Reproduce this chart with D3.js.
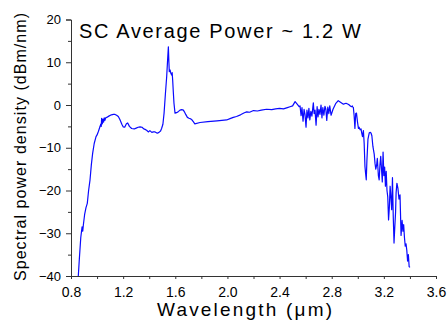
<!DOCTYPE html>
<html><head><meta charset="utf-8">
<script src="https://cdn.jsdelivr.net/npm/d3@7"></script>
<style>body{margin:0;background:#fff}svg{display:block}text{font-family:"Liberation Sans",Arial,sans-serif;fill:#000}</style>
</head><body>
<svg id="c" width="447" height="322"></svg>
<script>
const wavelength = [0.856,0.864,0.875,0.885,0.890,0.895,0.905,0.915,0.925,0.935,0.946,0.956,0.966,0.978,0.992,1.000,1.010,1.022,1.028,1.032,1.035,1.040,1.045,1.050,1.055,1.060,1.066,1.074,1.090,1.110,1.125,1.138,1.150,1.163,1.175,1.190,1.200,1.212,1.225,1.235,1.248,1.265,1.285,1.300,1.315,1.330,1.345,1.358,1.368,1.380,1.393,1.405,1.420,1.432,1.445,1.462,1.475,1.487,1.495,1.505,1.514,1.524,1.534,1.541,1.547,1.551,1.554,1.560,1.566,1.572,1.576,1.580,1.585,1.590,1.598,1.610,1.625,1.636,1.650,1.662,1.670,1.680,1.693,1.705,1.715,1.726,1.738,1.750,1.790,1.850,1.920,1.994,2.020,2.045,2.070,2.100,2.130,2.148,2.170,2.200,2.230,2.260,2.300,2.340,2.370,2.400,2.430,2.460,2.480,2.500,2.519,2.535,2.550,2.557,2.565,2.572,2.580,2.588,2.595,2.603,2.610,2.618,2.625,2.632,2.640,2.648,2.655,2.659,2.665,2.672,2.680,2.688,2.695,2.702,2.710,2.718,2.725,2.732,2.740,2.748,2.755,2.762,2.770,2.778,2.785,2.795,2.810,2.830,2.850,2.870,2.890,2.910,2.930,2.945,2.953,2.958,2.962,2.966,2.972,2.978,2.984,2.990,2.998,3.005,3.010,3.018,3.025,3.030,3.036,3.043,3.049,3.055,3.060,3.065,3.070,3.078,3.088,3.096,3.102,3.108,3.116,3.126,3.132,3.138,3.144,3.150,3.158,3.164,3.170,3.176,3.182,3.188,3.194,3.200,3.206,3.212,3.218,3.224,3.230,3.236,3.242,3.248,3.255,3.260,3.266,3.272,3.278,3.284,3.290,3.294,3.300,3.308,3.316,3.324,3.332,3.340,3.346,3.352,3.358,3.364,3.370,3.376,3.382,3.388,3.394,3.400,3.406,3.412,3.420,3.426,3.434];
const power = [-40,-36,-31,-28.5,-29.5,-28,-25.5,-24,-23,-20,-17.5,-14,-11.3,-9,-7.4,-7,-6.2,-5.1,-4.5,-5.0,-3.1,-4.4,-3.3,-4.0,-3.0,-3.6,-3.0,-2.9,-2.6,-2.3,-2.2,-2.2,-2.4,-2.7,-3.4,-4.5,-5.1,-5.2,-4.4,-4.2,-5.0,-5.5,-5.6,-5.4,-5.2,-5.1,-5.2,-5.6,-5.7,-5.9,-6.3,-6.0,-6.4,-6.3,-6.3,-6.6,-6.4,-6.1,-5.5,-4.5,-1.9,2.5,6.6,10.5,13.6,10.0,7.8,8.2,7.4,7.0,7.6,5.8,3.0,0.4,-1.9,-1.8,-1.5,-1.2,-1.1,-1.2,-1.6,-2.2,-2.9,-3.1,-3.2,-3.4,-3.9,-4.4,-4.1,-3.9,-3.7,-3.5,-3.2,-2.9,-2.7,-2.3,-1.8,-1.6,-1.7,-1.3,-1.4,-1.2,-1.0,-1.1,-0.9,-0.8,-0.9,-0.6,-0.4,-0.2,0.8,0.2,-0.4,-0.2,-2.5,-0.6,-3.8,-1.0,-2.2,-5.2,-1.2,-3.0,-0.8,-3.5,-1.5,-2.6,-0.6,0.5,-2.0,-1.2,-4.7,-0.4,-2.8,-1.0,-2.2,0.0,-3.0,-0.6,-2.4,-0.3,-1.0,-3.6,-0.5,-2.0,-0.2,-2.4,-1.0,0.3,1.0,0.6,0.2,0.4,0.1,-0.3,-0.4,-0.2,-0.5,-0.6,-2.5,-5.5,-2.0,-1.9,-4.0,-5.5,-5.2,-5.8,-5.6,-6.5,-7.4,-6.0,-9.0,-14.4,-16.0,-17.5,-13.0,-8.0,-6.5,-6.4,-6.6,-7.2,-9.7,-11.5,-13.6,-15.0,-14.2,-12.5,-16.5,-17.5,-14.0,-12.0,-15.0,-18.0,-11.0,-16.5,-14.5,-19.0,-15.5,-20.0,-21.5,-26.9,-24.0,-19.0,-22.0,-24.5,-17.0,-26.0,-32.3,-28.5,-25.0,-20.5,-18.3,-19.5,-22.0,-21.0,-30.5,-27.0,-29.5,-28.0,-31.0,-33.0,-32.5,-34.0,-36.5,-35.0,-37.8,-38.0];
const xTicks = [0.8,1.2,1.6,2.0,2.4,2.8,3.2,3.6];
const xMinor = [1.0,1.4,1.8,2.2,2.6,3.0,3.4];
const yTicks = [20,10,0,-10,-20,-30,-40];
const yMinor = [15,5,-5,-15,-25,-35];
const title = "SC Average Power ~ 1.2 W";
const xLabel = "Wavelength (\u03bcm)";
const yLabel = "Spectral power density (dBm/nm)";

const svg = d3.select("#c");
const L = 71, R = 436, T = 19.5, B = 276;
const x = d3.scaleLinear().domain([0.8,3.6]).range([L,R]);
const y = d3.scaleLinear().domain([-40,20]).range([B,T]);

svg.append("defs").append("clipPath").attr("id","clp")
  .append("rect").attr("x",L).attr("y",T).attr("width",R-L).attr("height",B-T);

const data = wavelength.map((w,i)=>[w,power[i]]);
svg.append("path").datum(data)
  .attr("clip-path","url(#clp)")
  .attr("fill","none").attr("stroke","#0a0aff").attr("stroke-width",1.2)
  .attr("stroke-linejoin","round")
  .attr("d", d3.line().x(d=>x(d[0])).y(d=>y(d[1])));

function style(g){
  g.select(".domain").attr("stroke","#333").attr("stroke-width",1);
  g.selectAll(".tick line").attr("stroke","#333");
  g.selectAll(".tick text").style("font-family","'Liberation Sans',Arial,sans-serif").attr("fill","#111");
}
const xa = svg.append("g").attr("transform",`translate(0,${B})`)
  .call(d3.axisBottom(x).tickValues(xTicks).tickSize(3).tickPadding(8).tickFormat(d3.format(".1f")));
style(xa); xa.selectAll(".tick text").style("font-size","14px");
const xm = svg.append("g").attr("transform",`translate(0,${B})`)
  .call(d3.axisBottom(x).tickValues(xMinor).tickSize(3).tickFormat(""));
style(xm); xm.select(".domain").remove();

const ya = svg.append("g").attr("transform",`translate(${L},0)`)
  .call(d3.axisLeft(y).tickValues(yTicks).tickSize(5).tickPadding(5).tickFormat(d3.format("d")));
style(ya); ya.selectAll(".tick text").style("font-size","13px");
const ym = svg.append("g").attr("transform",`translate(${L},0)`)
  .call(d3.axisLeft(y).tickValues(yMinor).tickSize(3).tickFormat(""));
style(ym); ym.select(".domain").remove();

svg.append("text").attr("x",79).attr("y",38).attr("textLength",282).attr("lengthAdjust","spacing")
  .style("font-size","20px").text(title);
svg.append("text").attr("x",157).attr("y",316).attr("textLength",175).attr("lengthAdjust","spacing")
  .style("font-size","19px").text(xLabel);
svg.append("text").attr("transform","translate(26,281) rotate(-90)")
  .attr("textLength",268).attr("lengthAdjust","spacing")
  .style("font-size","16px").text(yLabel);
</script>
</body></html>
